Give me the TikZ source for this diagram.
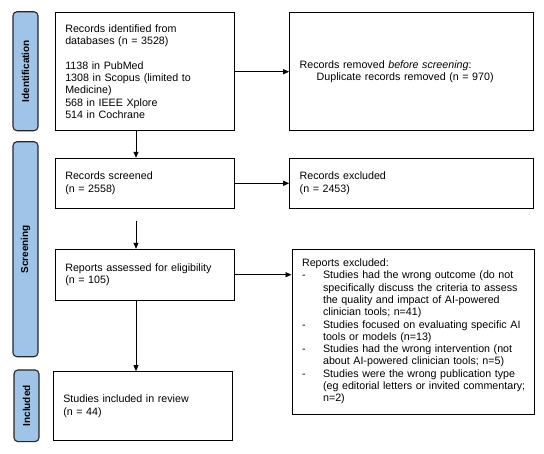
\documentclass[tikz,border=0pt]{standalone}
\usepackage{fontspec}
\setmainfont{Liberation Sans}
\usetikzlibrary{arrows.meta}
\definecolor{barblue}{RGB}{160,196,232}
\begin{document}
\begin{tikzpicture}[x=1pt,y=-1pt,
  box/.style={draw=black, line width=1.1pt, inner xsep=10pt, inner ysep=0pt, align=left,
    font=\fontsize{10.7}{12.3}\selectfont},
  bar/.style={draw=black!85, fill=barblue, line width=1.1pt, rounded corners=4pt,
    minimum height=25pt, inner sep=0pt, rotate=90,
    font=\fontsize{10}{12}\selectfont\bfseries},
  arr/.style={-{Triangle[length=6pt,width=5pt]}, line width=0.8pt}
]
\useasboundingbox (0,0) rectangle (544,453);

% phase bars
\node[bar, minimum width=119pt] (idbar) at (25.5,71.2) {Identification};
\node[bar, minimum width=215pt] (scbar) at (25.5,249.2) {Screening};
\node[bar, minimum width=71.7pt] (inbar) at (26.5,405.8) {Included};

% boxes
\node[box, text width=159.4pt, minimum height=118pt] (ident) at (145,71.7)
  {Records identified from\\databases (n = 3528)\\[12.3pt]1138 in PubMed\\1308 in Scopus (limited to\\Medicine)\\568 in IEEE Xplore\\514 in Cochrane};
\node[box, text width=224pt, minimum height=118pt] (removed) at (411.7,71.7)
  {Records removed \textit{before screening}:\\\hspace*{17pt}Duplicate records removed (n = 970)};
\node[box, text width=159.4pt, minimum height=50pt] (screened) at (145,183.3)
  {Records screened\\(n = 2558)};
\node[box, text width=224pt, minimum height=50pt] (recexcl) at (411.7,183.3)
  {Records excluded\\(n = 2453)};
\node[box, text width=159.4pt, minimum height=50.7pt] (assessed) at (145,274.7)
  {Reports assessed for eligibility\\(n = 105)};
\node[box, text width=222.3pt, minimum height=164.7pt] (repexcl) at (413.2,331.7)
  {\begin{tabular}{@{}p{21pt}@{}l@{}}
   \multicolumn{2}{@{}l@{}}{Reports excluded:}\\
   -&Studies had the wrong outcome (do not\\
    &specifically discuss the criteria to assess\\
    &the quality and impact of AI-powered\\
    &clinician tools; n=41)\\
   -&Studies focused on evaluating specific AI\\
    &tools or models (n=13)\\
   -&Studies had the wrong intervention (not\\
    &about AI-powered clinician tools; n=5)\\
   -&Studies were the wrong publication type\\
    &(eg editorial letters or invited commentary;\\
    &n=2)
   \end{tabular}};
\node[box, text width=159pt, minimum height=69pt] (included) at (142.8,406.2)
  {Studies included in review\\(n = 44)};

% connectors
\draw[arr] (ident.east) -- (removed.west);
\draw[arr] (screened.east) -- (recexcl.west);
\draw[arr] (assessed.east) -- (assessed.east -| repexcl.west);
\draw[arr] ([xshift=-9pt]ident.south) -- ([xshift=-9pt]ident.south |- screened.north);
\draw[arr, shorten <=12pt] ([xshift=-9pt]screened.south) -- ([xshift=-9pt]screened.south |- assessed.north);
\draw[arr] ([xshift=-9pt]assessed.south) -- ([xshift=-9pt]assessed.south |- included.north);
\end{tikzpicture}
\end{document}
